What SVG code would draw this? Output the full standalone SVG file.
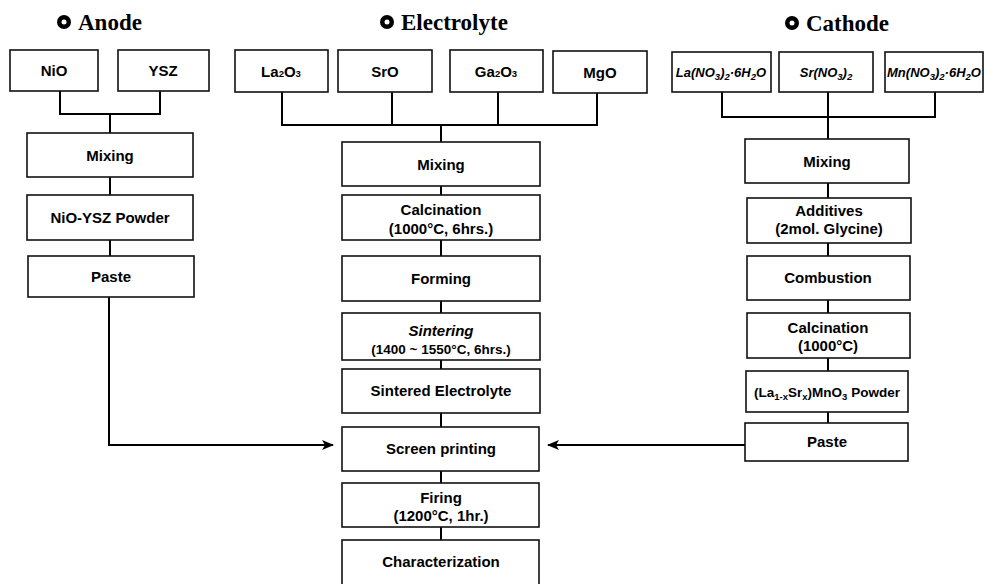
<svg xmlns="http://www.w3.org/2000/svg" width="984" height="584" viewBox="0 0 984 584">
<defs>
<marker id="ah" markerWidth="12" markerHeight="10" refX="11" refY="5" orient="auto" markerUnits="userSpaceOnUse">
<path d="M0,0 L12,5 L0,10 L3,5 Z" fill="#000"/>
</marker>
</defs>
<style>
.box{fill:#fff;stroke:#111;stroke-width:1.6}
.t{font-family:"Liberation Sans",Arial,sans-serif;font-weight:bold;font-size:15px;fill:#000;text-anchor:middle}
.s{font-size:13.5px}
.i{font-style:italic}
.sub{font-size:9.5px}
.title{font-family:"Liberation Serif","Times New Roman",serif;font-weight:bold;font-size:23px;fill:#000}
.ln{fill:none;stroke:#000;stroke-width:2}
</style>
<rect width="984" height="584" fill="#fff"/>

<g id="titles">
<circle cx="64" cy="22" r="7" fill="#000"/><circle cx="64" cy="22" r="2.5" fill="#fff"/>
<text class="title" x="78" y="30">Anode</text>
<circle cx="387" cy="22" r="7" fill="#000"/><circle cx="387" cy="22" r="2.5" fill="#fff"/>
<text class="title" x="401" y="30">Electrolyte</text>
<circle cx="792" cy="23" r="7" fill="#000"/><circle cx="792" cy="23" r="2.5" fill="#fff"/>
<text class="title" x="806" y="31">Cathode</text>
</g>

<g id="connectors">
<path class="ln" d="M60 91 V114 H160 V91 M110 114 V133 M110 177 V195 M110 240 V256"/>
<path class="ln" d="M109 297 V445 H333" marker-end="url(#ah)"/>
<path class="ln" d="M282 92 V125 H597 V93 M392 92 V125 M498 92 V125 M441 125 V142"/>
<path class="ln" d="M441 186 V195 M441 240 V256 M441 301 V313 M441 360 V369 M441 413 V427 M441 471 V483 M441 527 V540"/>
<path class="ln" d="M722 92 V117 H935 V92 M828 92 V139"/>
<path class="ln" d="M828 183 V198 M828 243 V256 M828 300 V313 M828 358 V371 M828 412 V423"/>
<path class="ln" d="M745 445 H548" marker-end="url(#ah)"/>
</g>

<g id="anode-nio"><rect class="box" x="10" y="50" width="88" height="41"/><text class="t" x="54" y="76">NiO</text></g>
<g id="anode-ysz"><rect class="box" x="118" y="50" width="91" height="41"/><text class="t" x="163" y="76">YSZ</text></g>
<g id="anode-mixing"><rect class="box" x="27" y="133" width="166" height="44"/><text class="t" x="110" y="161">Mixing</text></g>
<g id="anode-powder"><rect class="box" x="27" y="195" width="166" height="45"/><text class="t" x="110" y="223">NiO-YSZ Powder</text></g>
<g id="anode-paste"><rect class="box" x="28" y="256" width="166" height="41"/><text class="t" x="111" y="282">Paste</text></g>

<g id="el-la2o3"><rect class="box" x="235" y="50" width="93" height="42"/><text class="t" x="281" y="77">La<tspan class="sub">2</tspan>O<tspan class="sub">3</tspan></text></g>
<g id="el-sro"><rect class="box" x="338" y="50" width="94" height="42"/><text class="t" x="385" y="77">SrO</text></g>
<g id="el-ga2o3"><rect class="box" x="450" y="50" width="93" height="42"/><text class="t" x="496" y="77">Ga<tspan class="sub">2</tspan>O<tspan class="sub">3</tspan></text></g>
<g id="el-mgo"><rect class="box" x="553" y="51" width="94" height="42"/><text class="t" x="600" y="78">MgO</text></g>
<g id="el-mixing"><rect class="box" x="342" y="142" width="198" height="44"/><text class="t" x="441" y="170">Mixing</text></g>
<g id="el-calcination"><rect class="box" x="342" y="195" width="198" height="45"/><text class="t" x="441" y="215">Calcination</text><text class="t" x="441" y="234">(1000°C, 6hrs.)</text></g>
<g id="el-forming"><rect class="box" x="342" y="256" width="198" height="45"/><text class="t" x="441" y="284">Forming</text></g>
<g id="el-sintering"><rect class="box" x="342" y="313" width="198" height="47"/><text class="t i" x="441" y="336">Sintering</text><text class="t s" x="441" y="354">(1400 ~ 1550°C, 6hrs.)</text></g>
<g id="el-sintered"><rect class="box" x="342" y="369" width="198" height="44"/><text class="t" x="441" y="396">Sintered Electrolyte</text></g>
<g id="el-screen"><rect class="box" x="342" y="427" width="197" height="44"/><text class="t" x="441" y="454">Screen printing</text></g>
<g id="el-firing"><rect class="box" x="342" y="483" width="197" height="44"/><text class="t" x="441" y="503">Firing</text><text class="t" x="441" y="521">(1200°C, 1hr.)</text></g>
<g id="el-characterization"><rect class="box" x="342" y="540" width="197" height="56"/><text class="t" x="441" y="567">Characterization</text></g>

<g id="ca-la"><rect class="box" x="672" y="52" width="99" height="40"/><text class="t i" x="721" y="77" style="font-size:13px">La(NO<tspan class="sub" dy="3">3</tspan><tspan dy="-3">)</tspan><tspan class="sub" dy="3">2</tspan><tspan dy="-3">·6H</tspan><tspan class="sub" dy="3">2</tspan><tspan dy="-3">O</tspan></text></g>
<g id="ca-sr"><rect class="box" x="779" y="52" width="94" height="40"/><text class="t i" x="826" y="77" style="font-size:13px">Sr(NO<tspan class="sub" dy="3">3</tspan><tspan dy="-3">)</tspan><tspan class="sub" dy="3">2</tspan></text></g>
<g id="ca-mn"><rect class="box" x="885" y="52" width="98" height="40"/><text class="t i" x="934" y="77" style="font-size:13px">Mn(NO<tspan class="sub" dy="3">3</tspan><tspan dy="-3">)</tspan><tspan class="sub" dy="3">2</tspan><tspan dy="-3">·6H</tspan><tspan class="sub" dy="3">2</tspan><tspan dy="-3">O</tspan></text></g>
<g id="ca-mixing"><rect class="box" x="745" y="139" width="164" height="44"/><text class="t" x="827" y="167">Mixing</text></g>
<g id="ca-additives"><rect class="box" x="747" y="198" width="164" height="45"/><text class="t" x="829" y="216">Additives</text><text class="t" x="829" y="234">(2mol. Glycine)</text></g>
<g id="ca-combustion"><rect class="box" x="747" y="256" width="163" height="44"/><text class="t" x="828" y="283">Combustion</text></g>
<g id="ca-calcination"><rect class="box" x="747" y="313" width="163" height="45"/><text class="t" x="828" y="333">Calcination</text><text class="t" x="828" y="351">(1000°C)</text></g>
<g id="ca-powder"><rect class="box" x="746" y="371" width="162" height="41"/><text class="t" x="827" y="397" style="font-size:13.5px">(La<tspan class="sub" dy="3">1-x</tspan><tspan dy="-3">Sr</tspan><tspan class="sub" dy="3">x</tspan><tspan dy="-3">)MnO</tspan><tspan class="sub" dy="3">3</tspan><tspan dy="-3"> Powder</tspan></text></g>
<g id="ca-paste"><rect class="box" x="745" y="423" width="163" height="38"/><text class="t" x="827" y="447">Paste</text></g>
</svg>
